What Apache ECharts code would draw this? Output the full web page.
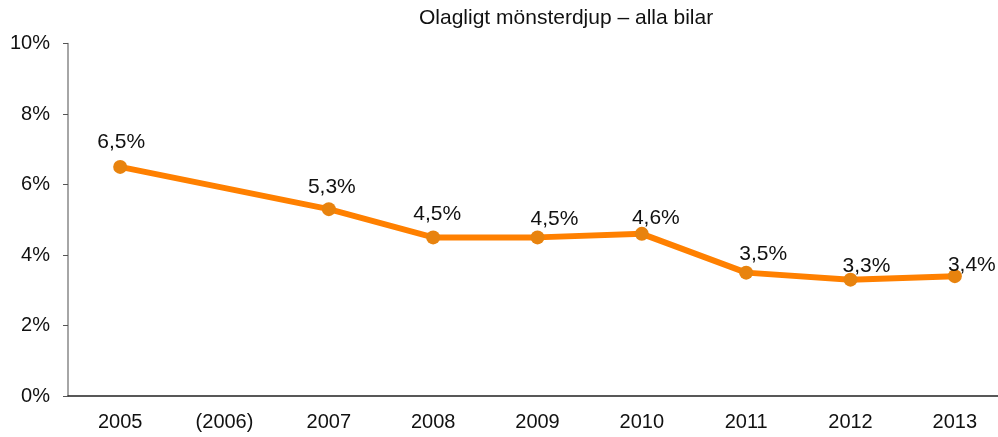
<!doctype html>
<html>
<head>
<meta charset="UTF-8">
<title>Olagligt mönsterdjup</title>
<script src="https://cdn.jsdelivr.net/npm/echarts@6/dist/echarts.min.js"></script>
<style>
  html, body { margin: 0; padding: 0; background: #fff; }
  #main { width: 998px; height: 437px; }
</style>
</head>
<body>
<div id="main"></div>
<script>
// data
var years = ['2005', '(2006)', '2007', '2008', '2009', '2010', '2011', '2012', '2013'];
var share = [6.5, null, 5.3, 4.5, 4.5, 4.6, 3.5, 3.3, 3.4];
var yTicks = [0, 2, 4, 6, 8, 10];

// label nudges (dx, dy) so the values sit like in the original
var nudge = [[1, -2], [0, 0], [3, 1], [4, -1], [17, 4], [14, 7], [17, 4], [16, 9], [17, 12]];

var chart = echarts.init(document.getElementById('main'));

var points = share.map(function (v, i) {
    return {
        value: v,
        label: { offset: nudge[i] }
    };
});

var option = {
    animation: false,
    title: {
        text: 'Olagligt mönsterdjup – alla bilar',
        left: 414,
        top: 3,
        textStyle: { fontFamily: 'Liberation Sans', fontSize: 21, fontWeight: 'normal', color: '#111' }
    },
    // plot runs past the right edge of the picture, as in the original
    grid: { left: 68, width: 939, top: 43.5, bottom: 41, containLabel: false, outerBoundsMode: 'none' },
    xAxis: {
        type: 'category',
        data: years,
        boundaryGap: true,
        axisLine: { lineStyle: { color: '#222', width: 1.5 } },
        axisTick: { length: 7, lineStyle: { color: '#777', width: 1.5 } },
        axisLabel: { margin: 16, fontFamily: 'Liberation Sans', fontSize: 20, color: '#111' }
    },
    yAxis: {
        type: 'value',
        min: yTicks[0],
        max: yTicks[yTicks.length - 1],
        interval: 2,
        splitLine: { show: false },
        axisLine: { show: true, lineStyle: { color: '#888', width: 1.5 } },
        axisTick: { show: true, length: 5, lineStyle: { color: '#555' } },
        axisLabel: {
            margin: 18,
            fontFamily: 'Liberation Sans', fontSize: 20, color: '#111',
            formatter: function (v) { return v + '%'; }
        }
    },
    series: [{
        type: 'line',
        data: points,
        connectNulls: true,
        symbol: 'circle',
        symbolSize: 14,
        lineStyle: { color: '#FF8000', width: 6 },
        itemStyle: { color: '#E8830E' },
        label: {
            show: true,
            position: 'top',
            fontFamily: 'Liberation Sans',
            fontSize: 21,
            color: '#111',
            formatter: function (p) { return String(p.value).replace('.', ',') + '%'; }
        }
    }]
};

chart.setOption(option);
</script>
</body>
</html>
